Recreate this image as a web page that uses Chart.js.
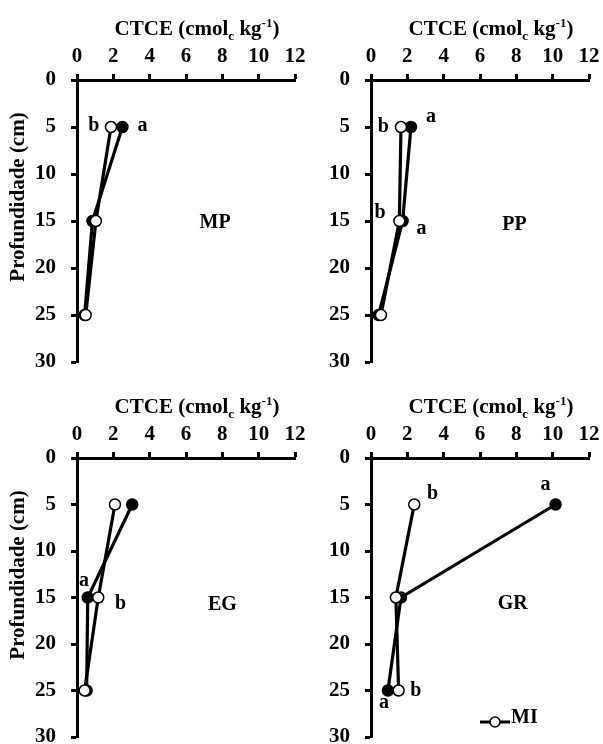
<!DOCTYPE html>
<html><head><meta charset="utf-8">
<script src="https://cdn.jsdelivr.net/npm/chart.js@4"></script>
<style>
html,body{margin:0;padding:0;background:#fff}
body{width:603px;height:744px;overflow:hidden;position:relative}
canvas{position:absolute}
</style></head><body>
<canvas id="cMP" width="315" height="370" style="left:0px;top:0px"></canvas>
<canvas id="cPP" width="303" height="370" style="left:300px;top:0px"></canvas>
<canvas id="cEG" width="315" height="374" style="left:0px;top:370px"></canvas>
<canvas id="cGR" width="303" height="374" style="left:300px;top:370px"></canvas>
<script>
// ---- data ----
const depths = [5, 15, 25];
const xTicks = [0, 2, 4, 6, 8, 10, 12];
const yTicks = [0, 5, 10, 15, 20, 25, 30];
const panelNames = ['MP', 'PP', 'EG', 'GR'];
const seriesNames = ['MI', 'MN'];
const miMP = [1.87, 1.04, 0.48];
const mnMP = [2.50, 0.85, 0.42];
const miPP = [1.65, 1.56, 0.55];
const mnPP = [2.20, 1.74, 0.42];
const miEG = [2.09, 1.17, 0.42];
const mnEG = [3.04, 0.59, 0.53];
const miGR = [2.38, 1.37, 1.52];
const mnGR = [10.16, 1.65, 0.93];
const lettersMP = ['b', 'a'];
const lettersPP = ['b', 'a', 'b', 'a'];
const lettersEG = ['a', 'b'];
const lettersGR = ['b', 'a', 'b', 'a'];
const xTitleMain = 'CTCE (cmol', xTitleSub = 'c', xTitleMid = ' kg', xTitleSup = '-1', xTitleEnd = ')';
const yTitle = 'Profundidade (cm)';

// ---- layout (positions in data units for letters) ----
const letterPosMP = [[0.93, 4.9], [3.6, 4.9]];
const letterPosPP = [[0.68, 5.0], [3.3, 3.9], [0.5, 14.1], [2.78, 15.8]];
const letterPosEG = [[0.38, 13.2], [2.4, 15.7]];
const letterPosGR = [[3.39, 3.9], [9.6, 2.9], [2.47, 25.0], [0.71, 26.3]];
const panelPos = {MP: [7.6, 15.2], PP: [7.9, 15.4], EG: [8.0, 15.8], GR: [7.8, 15.7]};

const FONT = '"Liberation Serif", "Times New Roman", serif';

function drawXTitle(ctx, cx, cy) {
  const big = 'bold 21px ' + FONT, small = 'bold 13px ' + FONT;
  const parts = [
    [xTitleMain, big, 0], [xTitleSub, small, 5], [xTitleMid, big, 0], [xTitleSup, small, -8], [xTitleEnd, big, 0]
  ];
  let total = 0;
  parts.forEach(p => { ctx.font = p[1]; total += ctx.measureText(p[0]).width; });
  let x = cx - total / 2;
  ctx.textAlign = 'left';
  ctx.textBaseline = 'alphabetic';
  parts.forEach(p => { ctx.font = p[1]; ctx.fillText(p[0], x, cy + 7 + p[2]); x += ctx.measureText(p[0]).width; });
}

const overlay = {
  id: 'overlay',
  afterDraw(chart, args, opts) {
    const {ctx, chartArea: a} = chart;
    const xs = chart.scales.x, ys = chart.scales.y;
    ctx.save();
    ctx.fillStyle = '#000';
    ctx.textAlign = 'center';
    ctx.textBaseline = 'middle';
    ctx.font = 'bold 20px ' + FONT;
    opts.letters.forEach((t, i) => {
      const p = opts.letterPos[i];
      ctx.fillText(t, xs.getPixelForValue(p[0]), ys.getPixelForValue(p[1]));
    });
    ctx.font = 'bold 20px ' + FONT;
    const pp = panelPos[opts.name];
    ctx.fillText(opts.name, xs.getPixelForValue(pp[0]), ys.getPixelForValue(pp[1]));
    drawXTitle(ctx, a.left + 120, a.top - 52);
    if (opts.yTitle) {
      ctx.save();
      ctx.translate(19, a.top + 117);
      ctx.rotate(-Math.PI / 2);
      ctx.textAlign = 'center';
      ctx.textBaseline = 'middle';
      ctx.font = 'bold 21px ' + FONT;
      ctx.fillText(yTitle, 0, 0);
      ctx.restore();
    }
    if (opts.legend) {
      const ly = a.top + 264, lx = a.left + 109;
      ctx.strokeStyle = '#000';
      ctx.lineWidth = 3;
      ctx.beginPath(); ctx.moveTo(lx, ly); ctx.lineTo(lx + 30, ly); ctx.stroke();
      ctx.beginPath(); ctx.arc(lx + 15, ly, 5, 0, Math.PI * 2);
      ctx.fillStyle = '#fff'; ctx.fill();
      ctx.lineWidth = 1.5; ctx.stroke();
      ctx.fillStyle = '#000';
      ctx.textAlign = 'left';
      ctx.font = 'bold 20px ' + FONT;
      ctx.fillText(seriesNames[0], lx + 31, ly + 1);
    }
    ctx.restore();
  }
};

function makeChart(id, name, mi, mn, box, letters, letterPos, showY, legend) {
  const canvas = document.getElementById(id);
  const W = canvas.width, H = canvas.height;
  const pts = arr => depths.map((d, i) => ({x: arr[i], y: d}));
  return new Chart(canvas, {
    type: 'scatter',
    data: {
      datasets: [
        {label: seriesNames[0], data: pts(mi), showLine: true, order: 0,
         borderColor: '#000', borderWidth: 3.2, pointRadius: 5.5, pointHoverRadius: 5.5,
         pointBackgroundColor: '#fff', pointBorderColor: '#000', pointBorderWidth: 1.5},
        {label: seriesNames[1], data: pts(mn), showLine: true, order: 1,
         borderColor: '#000', borderWidth: 3.2, pointRadius: 5.5, pointHoverRadius: 5.5,
         pointBackgroundColor: '#000', pointBorderColor: '#000', pointBorderWidth: 1.5}
      ]
    },
    options: {
      responsive: false,
      animation: false,
      devicePixelRatio: 1,
      layout: {padding: {left: 0, top: 0, right: W - box.right, bottom: H - box.bottom}},
      plugins: {
        legend: {display: false},
        tooltip: {enabled: false},
        overlay: {name, letters, letterPos, yTitle: showY, legend}
      },
      scales: {
        x: {
          type: 'linear', position: 'top', min: 0, max: 12,
          afterBuildTicks: s => { s.ticks = xTicks.map(v => ({value: v})); },
          ticks: {color: '#000', font: {family: FONT, size: 21, weight: 'bold'}, padding: 5, maxRotation: 0},
          grid: {display: true, drawOnChartArea: false, drawTicks: true, tickLength: 6, tickWidth: 3, tickColor: '#000'},
          border: {display: true, color: '#000', width: 3},
          afterFit: s => { s.height = box.top; s.paddingLeft = 0; s.paddingRight = 0; }
        },
        y: {
          type: 'linear', reverse: true, min: 0, max: 30,
          afterBuildTicks: s => { s.ticks = yTicks.map(v => ({value: v})); },
          ticks: {color: '#000', font: {family: FONT, size: 21, weight: 'bold'}, padding: 15},
          grid: {display: true, drawOnChartArea: false, drawTicks: true, tickLength: 6, tickWidth: 3, tickColor: '#000'},
          border: {display: true, color: '#000', width: 3},
          afterFit: s => { s.width = box.left; s.paddingTop = 0; s.paddingBottom = 0; }
        }
      }
    },
    plugins: [overlay]
  });
}

makeChart('cMP', panelNames[0], miMP, mnMP, {left: 77, top: 80, right: 295, bottom: 362}, lettersMP, letterPosMP, true, false);
makeChart('cPP', panelNames[1], miPP, mnPP, {left: 71, top: 80, right: 289, bottom: 362}, lettersPP, letterPosPP, false, false);
makeChart('cEG', panelNames[2], miEG, mnEG, {left: 77, top: 88, right: 295, bottom: 367}, lettersEG, letterPosEG, true, false);
makeChart('cGR', panelNames[3], miGR, mnGR, {left: 71, top: 88, right: 289, bottom: 367}, lettersGR, letterPosGR, false, true);
</script>
</body></html>
